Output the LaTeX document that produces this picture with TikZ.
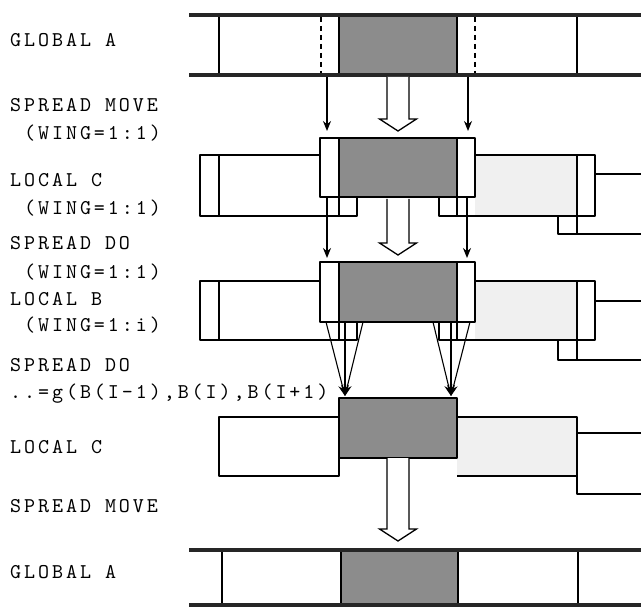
\documentclass[tikz,border=0pt]{standalone}
\usepackage{fontspec}
\newfontfamily\lblfont{lmmono10-regular.otf}[LetterSpace=14]
\usetikzlibrary{arrows.meta}
\tikzset{
  ln/.style={line width=1.4pt, line join=round},
  bar/.style={line width=3.6pt, black!85},
  dark/.style={fill=black!45},
  light/.style={fill=black!6},
  hol/.style={line width=1.3pt, fill=white, line join=miter},
  tarrow/.style={line width=1.3pt, -{Stealth[length=10pt,width=8pt]}},
  farrow/.style={line width=1.1pt, -{Stealth[length=11pt,width=8pt]}},
  lbl/.style={anchor=west, inner sep=0pt, font=\lblfont\fontsize{21}{25}\selectfont}
}
\newcommand{\harrow}[3]{\draw[hol] (#1-11,#2) -- (#1-11,#3-12) -- (#1-18.5,#3-12) -- (#1,#3) -- (#1+18.5,#3-12) -- (#1+11,#3-12) -- (#1+11,#2);}
\begin{document}
\begin{tikzpicture}[x=1pt,y=-1pt]
\useasboundingbox (0,0) rectangle (641,607);
% ---------- labels ----------
\node[lbl] (t1) at (10,40) {GLOBAL A};
\node[lbl] (t2) at (10,105) {SPREAD MOVE};
\node[lbl] (t3) at (10,133) {\ (WING=1:1)};
\node[lbl] (t4) at (10,180) {LOCAL C};
\node[lbl] (t5) at (10,208) {\ (WING=1:1)};
\node[lbl] (t6) at (10,243) {SPREAD DO};
\node[lbl] (t7) at (10,272) {\ (WING=1:1)};
\node[lbl] (t8) at (10,299) {LOCAL B};
\node[lbl] (t9) at (10,325) {\ (WING=1:i)};
\node[lbl] (t10) at (10,365) {SPREAD DO};
\node[lbl] (t11) at (10,394) {..=g(B(I-1),B(I),B(I+1)};
\node[lbl] (t12) at (10,447) {LOCAL C};
\node[lbl] (t13) at (10,506) {SPREAD MOVE};
\node[lbl] (t14) at (10,572) {GLOBAL A};
% ---------- row 1 : GLOBAL A ----------
\fill[dark] (339,15) rectangle (457,75);
\draw[ln] (339,15) -- (339,75);
\draw[ln] (457,15) -- (457,75);
\draw[ln] (219,15) -- (219,75);
\draw[ln] (577,15) -- (577,75);
\draw[ln,dash pattern=on 5pt off 4pt] (321,17) -- (321,75);
\draw[ln,dash pattern=on 5pt off 4pt] (475,17) -- (475,75);
\draw[bar] (189,15) -- (641,15);
\draw[bar] (189,75) -- (641,75);
% arrows row1 -> row2
\coordinate (a1s) at (327,77); \coordinate (a1e) at (327,131);
\coordinate (a2s) at (468,77); \coordinate (a2e) at (468,131);
\draw[tarrow] (a1s) -- (a1e);
\draw[tarrow] (a2s) -- (a2e);
\harrow{398}{77}{131}
% ---------- row 2 : LOCAL C ----------
\fill[light] (475,155) rectangle (577,216);
\draw[ln] (320,155) -- (200,155) -- (200,216) -- (357,216) -- (357,197);
\draw[ln] (219,155) -- (219,216);
\draw[ln] (339,197) -- (339,216);
\fill[dark] (339,138) rectangle (457,197);
\draw[ln] (320,138) rectangle (475,197);
\draw[ln] (339,138) -- (339,197);
\draw[ln] (457,138) -- (457,197);
\draw[ln] (475,155) -- (595,155) -- (595,216) -- (439,216) -- (439,197);
\draw[ln] (457,197) -- (457,216);
\draw[ln] (577,155) -- (577,234);
\draw[ln] (558,216) -- (558,234) -- (641,234);
\draw[ln] (595,174) -- (641,174);
% arrows row2 -> row3
\coordinate (b1s) at (327,197); \coordinate (b1e) at (327,258);
\coordinate (b2s) at (467,197); \coordinate (b2e) at (467,258);
\draw[tarrow] (b1s) -- (b1e);
\draw[tarrow] (b2s) -- (b2e);
\harrow{398}{199}{255}
% ---------- row 3 : LOCAL B ----------
\fill[light] (475,281) rectangle (577,340);
\draw[ln] (320,281) -- (200,281) -- (200,340) -- (357,340) -- (357,322);
\draw[ln] (219,281) -- (219,340);
\draw[ln] (339,322) -- (339,340);
\fill[dark] (339,262) rectangle (457,322);
\draw[ln] (320,262) rectangle (475,322);
\draw[ln] (339,262) -- (339,322);
\draw[ln] (457,262) -- (457,322);
\draw[ln] (475,281) -- (595,281) -- (595,340) -- (439,340) -- (439,322);
\draw[ln] (457,322) -- (457,340);
\draw[ln] (577,281) -- (577,360);
\draw[ln] (558,340) -- (558,360) -- (641,360);
\draw[ln] (595,301) -- (641,301);
% fans
\coordinate (fl) at (345,396);
\coordinate (fr) at (451,396);
\coordinate (fl1) at (326,322); \coordinate (fl2) at (345,322); \coordinate (fl3) at (363,322);
\coordinate (fr1) at (433,322); \coordinate (fr2) at (451,322); \coordinate (fr3) at (470,322);
\draw[farrow] (fl1) -- (fl);
\draw[farrow] (fl2) -- (fl);
\draw[farrow] (fl3) -- (fl);
\draw[farrow] (fr1) -- (fr);
\draw[farrow] (fr2) -- (fr);
\draw[farrow] (fr3) -- (fr);
% ---------- row 4 : LOCAL C ----------
\draw[ln] (219,417) rectangle (339,476);
\fill[light] (457,417) rectangle (577,476);
\draw[ln] (457,417) -- (577,417) -- (577,494) -- (641,494);
\draw[ln] (457,476) -- (577,476);
\draw[ln] (577,433) -- (641,433);
\fill[dark] (339,398) rectangle (457,458);
\draw[ln] (339,398) rectangle (457,458);
\harrow{398}{458}{541}
% ---------- row 5 : GLOBAL A ----------
\fill[dark] (341,550) rectangle (458,605);
\draw[ln] (341,550) -- (341,605);
\draw[ln] (458,550) -- (458,605);
\draw[ln] (222,550) -- (222,605);
\draw[ln] (578,550) -- (578,605);
\draw[bar] (189,550) -- (641,550);
\draw[bar] (189,605) -- (641,605);
\end{tikzpicture}
\end{document}
